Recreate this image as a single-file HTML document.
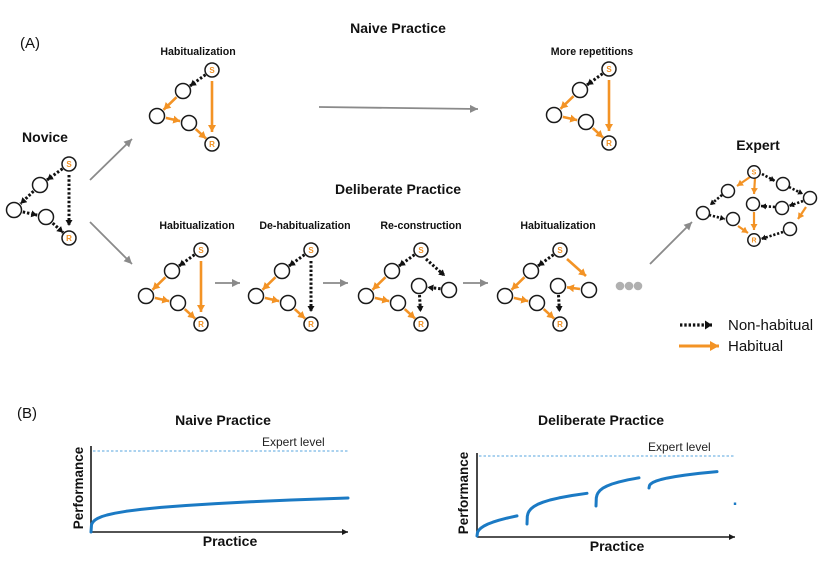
<!DOCTYPE html>
<html><head><meta charset="utf-8"><style>
html,body{margin:0;padding:0;background:#fff;}
svg{display:block;}
.o{stroke:#f39325;stroke-width:2.6;fill:none;marker-end:url(#mo);}
.d{stroke:#111;stroke-width:3;stroke-dasharray:2.4 1.9;fill:none;marker-end:url(#mb);}
.o2{stroke:#f39325;stroke-width:2.2;fill:none;marker-end:url(#mo2);}
.d2{stroke:#111;stroke-width:2.6;stroke-dasharray:2.2 1.8;fill:none;marker-end:url(#mb2);}
.g{stroke:#8a8a8a;stroke-width:1.8;fill:none;marker-end:url(#mg);}
.n{fill:#fff;stroke:#1a1a1a;stroke-width:1.5;}
.l{fill:#f39325;font-weight:bold;font-size:8px;text-anchor:middle;}
.l2{fill:#f39325;font-weight:bold;font-size:7px;text-anchor:middle;}
.st{font-weight:bold;font-size:10.6px;text-anchor:middle;fill:#111;}
.bt{font-weight:bold;font-size:14px;text-anchor:middle;fill:#111;}
.ax{stroke:#1a1a1a;stroke-width:1.6;fill:none;}
.cv{stroke:#1b7ac4;stroke-width:3;fill:none;stroke-linecap:round;stroke-linejoin:round;}
.ex{stroke:#8fc4ea;stroke-width:1.5;stroke-dasharray:2.5 2;fill:none;}
</style></head><body>
<svg width="826" height="570" viewBox="0 0 826 570" xmlns="http://www.w3.org/2000/svg" font-family="'Liberation Sans', Arial, sans-serif">
<defs>
<marker id="mo" markerUnits="userSpaceOnUse" markerWidth="10" markerHeight="10" refX="7" refY="4" orient="auto"><path d="M0,0 L7,4 L0,8 z" fill="#f39325"/></marker>
<marker id="mb" markerUnits="userSpaceOnUse" markerWidth="10" markerHeight="10" refX="6" refY="3.5" orient="auto"><path d="M0,0 L6,3.5 L0,7 z" fill="#111"/></marker>
<marker id="mo2" markerUnits="userSpaceOnUse" markerWidth="10" markerHeight="10" refX="6" refY="3.5" orient="auto"><path d="M0,0 L6,3.5 L0,7 z" fill="#f39325"/></marker>
<marker id="mb2" markerUnits="userSpaceOnUse" markerWidth="10" markerHeight="10" refX="5" refY="3" orient="auto"><path d="M0,0 L5,3 L0,6 z" fill="#111"/></marker>
<marker id="mg" markerUnits="userSpaceOnUse" markerWidth="12" markerHeight="12" refX="8" refY="4" orient="auto"><path d="M0,0 L8,4 L0,8 z" fill="#8a8a8a"/></marker>
<marker id="ma" markerUnits="userSpaceOnUse" markerWidth="10" markerHeight="10" refX="6" refY="3" orient="auto"><path d="M0,0 L6,3 L0,6 z" fill="#1a1a1a"/></marker>
<marker id="mol" markerUnits="userSpaceOnUse" markerWidth="12" markerHeight="12" refX="9" refY="5" orient="auto"><path d="M0,0 L9,5 L0,10 z" fill="#f39325"/></marker>
<marker id="mbl" markerUnits="userSpaceOnUse" markerWidth="12" markerHeight="12" refX="7" refY="4.5" orient="auto"><path d="M0,0 L7,4.5 L0,9 z" fill="#111"/></marker>
</defs>

<!-- Labels -->
<text x="20" y="48" font-size="15" fill="#111">(A)</text>
<text x="398" y="33" class="bt">Naive Practice</text>
<text x="398" y="194" class="bt">Deliberate Practice</text>
<text x="45" y="142" class="bt">Novice</text>
<text x="758" y="150" class="bt">Expert</text>

<text x="198" y="55" class="st">Habitualization</text>
<text x="592" y="55" class="st">More repetitions</text>
<text x="197" y="229" class="st">Habitualization</text>
<text x="305" y="229" class="st">De-habitualization</text>
<text x="421" y="229" class="st">Re-construction</text>
<text x="558" y="229" class="st">Habitualization</text>

<!-- Gray arrows -->
<path class="g" d="M90,180 L132,139"/>
<path class="g" d="M90,222 L132,264"/>
<path class="g" d="M319,107 L478,109"/>
<path class="g" d="M215,283 L240,283"/>
<path class="g" d="M323,283 L348,283"/>
<path class="g" d="M463,283 L488,283"/>
<path class="g" d="M650,264 L692,222"/>

<!-- Novice -->
<g transform="translate(69,164)">
<path class="d" d="M-6.5,4.7 L-22,16"/>
<path class="d" d="M0,11 L0,62"/>
<path class="d" d="M-35.5,27.2 L-48.5,39.8"/>
<path class="d" d="M-46.2,47.9 L-31.8,51.1"/>
<path class="d" d="M-16.3,59.1 L-5.9,68.6"/>
<circle class="n" cx="0" cy="0" r="7"/><circle class="n" cx="-29" cy="21" r="7.5"/><circle class="n" cx="-55" cy="46" r="7.5"/><circle class="n" cx="-23" cy="53" r="7.5"/><circle class="n" cx="0" cy="74" r="7"/>
<text class="l" x="0" y="3">S</text><text class="l" x="0" y="77">R</text>
</g>

<!-- Habitualization top -->
<g transform="translate(212,70)">
<path class="d" d="M-6.5,4.7 L-22,16"/>
<path class="o" d="M0,11 L0,62"/>
<path class="o" d="M-35.5,27.2 L-48.5,39.8"/>
<path class="o" d="M-46.2,47.9 L-31.8,51.1"/>
<path class="o" d="M-16.3,59.1 L-5.9,68.6"/>
<circle class="n" cx="0" cy="0" r="7"/><circle class="n" cx="-29" cy="21" r="7.5"/><circle class="n" cx="-55" cy="46" r="7.5"/><circle class="n" cx="-23" cy="53" r="7.5"/><circle class="n" cx="0" cy="74" r="7"/>
<text class="l" x="0" y="3">S</text><text class="l" x="0" y="77">R</text>
</g>

<!-- More repetitions -->
<g transform="translate(609,69)">
<path class="d" d="M-6.5,4.7 L-22,16"/>
<path class="o" d="M0,11 L0,62"/>
<path class="o" d="M-35.5,27.2 L-48.5,39.8"/>
<path class="o" d="M-46.2,47.9 L-31.8,51.1"/>
<path class="o" d="M-16.3,59.1 L-5.9,68.6"/>
<circle class="n" cx="0" cy="0" r="7"/><circle class="n" cx="-29" cy="21" r="7.5"/><circle class="n" cx="-55" cy="46" r="7.5"/><circle class="n" cx="-23" cy="53" r="7.5"/><circle class="n" cx="0" cy="74" r="7"/>
<text class="l" x="0" y="3">S</text><text class="l" x="0" y="77">R</text>
</g>

<!-- Habitualization deliberate -->
<g transform="translate(201,250)">
<path class="d" d="M-6.5,4.7 L-22,16"/>
<path class="o" d="M0,11 L0,62"/>
<path class="o" d="M-35.5,27.2 L-48.5,39.8"/>
<path class="o" d="M-46.2,47.9 L-31.8,51.1"/>
<path class="o" d="M-16.3,59.1 L-5.9,68.6"/>
<circle class="n" cx="0" cy="0" r="7"/><circle class="n" cx="-29" cy="21" r="7.5"/><circle class="n" cx="-55" cy="46" r="7.5"/><circle class="n" cx="-23" cy="53" r="7.5"/><circle class="n" cx="0" cy="74" r="7"/>
<text class="l" x="0" y="3">S</text><text class="l" x="0" y="77">R</text>
</g>

<!-- De-habitualization -->
<g transform="translate(311,250)">
<path class="d" d="M-6.5,4.7 L-22,16"/>
<path class="d" d="M0,11 L0,62"/>
<path class="o" d="M-35.5,27.2 L-48.5,39.8"/>
<path class="o" d="M-46.2,47.9 L-31.8,51.1"/>
<path class="o" d="M-16.3,59.1 L-5.9,68.6"/>
<circle class="n" cx="0" cy="0" r="7"/><circle class="n" cx="-29" cy="21" r="7.5"/><circle class="n" cx="-55" cy="46" r="7.5"/><circle class="n" cx="-23" cy="53" r="7.5"/><circle class="n" cx="0" cy="74" r="7"/>
<text class="l" x="0" y="3">S</text><text class="l" x="0" y="77">R</text>
</g>

<!-- Re-construction -->
<g transform="translate(421,250)">
<path class="d" d="M-6.5,4.7 L-22,16"/>
<path class="o" d="M-35.5,27.2 L-48.5,39.8"/>
<path class="o" d="M-46.2,47.9 L-31.8,51.1"/>
<path class="o" d="M-16.3,59.1 L-5.9,68.6"/>
<path class="d" d="M5,9 L24,26"/>
<path class="d" d="M19.5,38.8 L6.5,37.2"/>
<path class="d" d="M-1.5,45 L-0.5,62"/>
<circle class="n" cx="0" cy="0" r="7"/><circle class="n" cx="-29" cy="21" r="7.5"/><circle class="n" cx="-55" cy="46" r="7.5"/><circle class="n" cx="-23" cy="53" r="7.5"/><circle class="n" cx="0" cy="74" r="7"/>
<circle class="n" cx="-2" cy="36" r="7.5"/><circle class="n" cx="28" cy="40" r="7.5"/>
<text class="l" x="0" y="3">S</text><text class="l" x="0" y="77">R</text>
</g>

<!-- Habitualization 2 -->
<g transform="translate(560,250)">
<path class="d" d="M-6.5,4.7 L-22,16"/>
<path class="o" d="M-35.5,27.2 L-48.5,39.8"/>
<path class="o" d="M-46.2,47.9 L-31.8,51.1"/>
<path class="o" d="M-16.3,59.1 L-5.9,68.6"/>
<path class="o" d="M7,9 L26,26"/>
<path class="o" d="M20,39 L7,37.3"/>
<path class="d" d="M-1.5,45 L-0.5,62"/>
<circle class="n" cx="0" cy="0" r="7"/><circle class="n" cx="-29" cy="21" r="7.5"/><circle class="n" cx="-55" cy="46" r="7.5"/><circle class="n" cx="-23" cy="53" r="7.5"/><circle class="n" cx="0" cy="74" r="7"/>
<circle class="n" cx="-2" cy="36" r="7.5"/><circle class="n" cx="29" cy="40" r="7.5"/>
<text class="l" x="0" y="3">S</text><text class="l" x="0" y="77">R</text>
</g>

<!-- gray dots -->
<circle cx="620" cy="286" r="4.3" fill="#b0b0b0"/>
<circle cx="629" cy="286" r="4.3" fill="#b0b0b0"/>
<circle cx="638" cy="286" r="4.3" fill="#b0b0b0"/>

<!-- Expert -->
<g>
<path class="o2" d="M750,177 L737,186"/>
<path class="o2" d="M755,178 L754,194"/>
<path class="d2" d="M762,174 L775,181"/>
<path class="d2" d="M789,187 L803,194"/>
<path class="d2" d="M803,201 L789,206"/>
<path class="d2" d="M775,207 L761,206"/>
<path class="o2" d="M806,207 L798,219"/>
<path class="d2" d="M722,195 L710,205"/>
<path class="d2" d="M709,215 L725,219"/>
<path class="o2" d="M738,226 L748,233"/>
<path class="o2" d="M754,212 L754,230"/>
<path class="d2" d="M783,232 L761,239"/>
<circle class="n" cx="754" cy="172" r="6.2"/>
<circle class="n" cx="728" cy="191" r="6.5"/>
<circle class="n" cx="703" cy="213" r="6.5"/>
<circle class="n" cx="733" cy="219" r="6.5"/>
<circle class="n" cx="753" cy="204" r="6.5"/>
<circle class="n" cx="754" cy="240" r="6.2"/>
<circle class="n" cx="783" cy="184" r="6.5"/>
<circle class="n" cx="810" cy="198" r="6.5"/>
<circle class="n" cx="782" cy="208" r="6.5"/>
<circle class="n" cx="790" cy="229" r="6.5"/>
<text class="l2" x="754" y="174.5">S</text>
<text class="l2" x="754" y="242.5">R</text>
</g>

<!-- Legend -->
<path d="M680,325 L712,325" stroke="#111" stroke-width="3.2" stroke-dasharray="2.4 1.9" fill="none" marker-end="url(#mbl)"/>
<path d="M679,346 L719,346" stroke="#f39325" stroke-width="3" fill="none" marker-end="url(#mol)"/>
<text x="728" y="330" font-size="15" fill="#111">Non-habitual</text>
<text x="728" y="351" font-size="15" fill="#111">Habitual</text>

<!-- (B) -->
<text x="17" y="418" font-size="15" fill="#111">(B)</text>

<!-- Naive chart -->
<text x="223" y="425" class="bt">Naive Practice</text>
<path class="ex" d="M93,451 L348,451"/>
<text x="262" y="446" font-size="12" fill="#222">Expert level</text>
<path class="ax" d="M91,446 L91,532"/>
<path class="ax" d="M91,532 L348,532" marker-end="url(#ma)"/>
<polyline class="cv" points="91,532 91.5,524.9 92,523.5 93,521.9 95,520 98,518.2 102,516.5 107,515 115,513.2 126,511.3 141,509.4 161,507.4 186,505.5 216,503.6 251,501.8 291,500 348,498"/>
<text transform="translate(83,488) rotate(-90)" text-anchor="middle" font-size="13.5" font-weight="bold" fill="#111">Performance</text>
<text x="230" y="546" class="bt">Practice</text>

<!-- Deliberate chart -->
<text x="601" y="425" class="bt">Deliberate Practice</text>
<path class="ex" d="M479,456 L735,456"/>
<text x="648" y="451" font-size="12" fill="#222">Expert level</text>
<path class="ax" d="M477,453 L477,537"/>
<path class="ax" d="M477,537 L735,537" marker-end="url(#ma)"/>
<polyline class="cv" points="477,536 477.5,532.5 478,531.4 479,529.9 481,528 484,526 488,524 493,522.1 499,520.2 507,518.1 517,515.9"/>
<polyline class="cv" points="527,524 527.3,516.3 528,513.4 529,511.3 531,508.8 534,506.4 538,504.2 543,502.2 550,500 559,497.9 572,495.5 587,493.3"/>
<polyline class="cv" points="596,506 596.3,497.9 597,495 598,492.9 600,490.4 603,488.1 607,486 612,484 619,481.9 628,479.8 639,477.8"/>
<polyline class="cv" points="649,488 649.5,485.5 650,484.7 651,483.7 653,482.4 656,481.1 661,479.5 667,478.1 675,476.6 685,475.1 699,473.4 717,471.6"/>
<path d="M735,502.5 L735,505" stroke="#1b7ac4" stroke-width="2.4" fill="none"/>
<text transform="translate(468,493) rotate(-90)" text-anchor="middle" font-size="13.5" font-weight="bold" fill="#111">Performance</text>
<text x="617" y="551" class="bt">Practice</text>
</svg>
</body></html>
